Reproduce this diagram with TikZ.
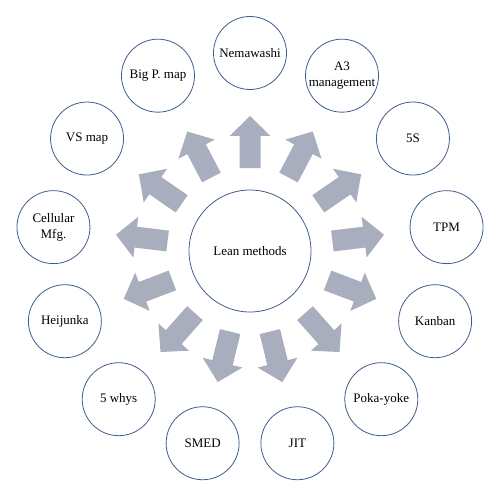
\documentclass[tikz,border=0pt]{standalone}
\usepackage{fontspec}
\setmainfont{Liberation Serif}
\definecolor{ringblue}{HTML}{3F5D8C}
\definecolor{arrowgray}{HTML}{A8AEBD}
\tikzset{
  method/.style={circle, draw=ringblue, line width=0.8pt, minimum size=73, inner sep=0pt, align=center, font=\fontsize{13}{16}\selectfont},
  hub/.style={method, minimum size=122},
  blockarrow/.style={fill=arrowgray, draw=none}
}
\begin{document}
\begin{tikzpicture}[x=1pt, y=1pt]
\useasboundingbox (-250,-247) rectangle (250,251);
\node[hub] (lean) at (0,0) {Lean methods};
% outer ring, clockwise from the top
\foreach \lbl [count=\i] in {Nemawashi, {A3\\management}, 5S, TPM, Kanban, Poka-yoke, JIT, SMED, 5 whys, Heijunka, {Cellular\\Mfg.}, VS map, Big P. map} {
  \pgfmathsetmacro\ang{90-(\i-1)*360/13}
  \node[method] (m\i) at (\ang:198) {\lbl};
  \fill[blockarrow, rotate=\ang] (83,-10.5) -- (115,-10.5) -- (115,-20.5) -- (135,0) -- (115,20.5) -- (115,10.5) -- (83,10.5) -- cycle;
}
\end{tikzpicture}
\end{document}
